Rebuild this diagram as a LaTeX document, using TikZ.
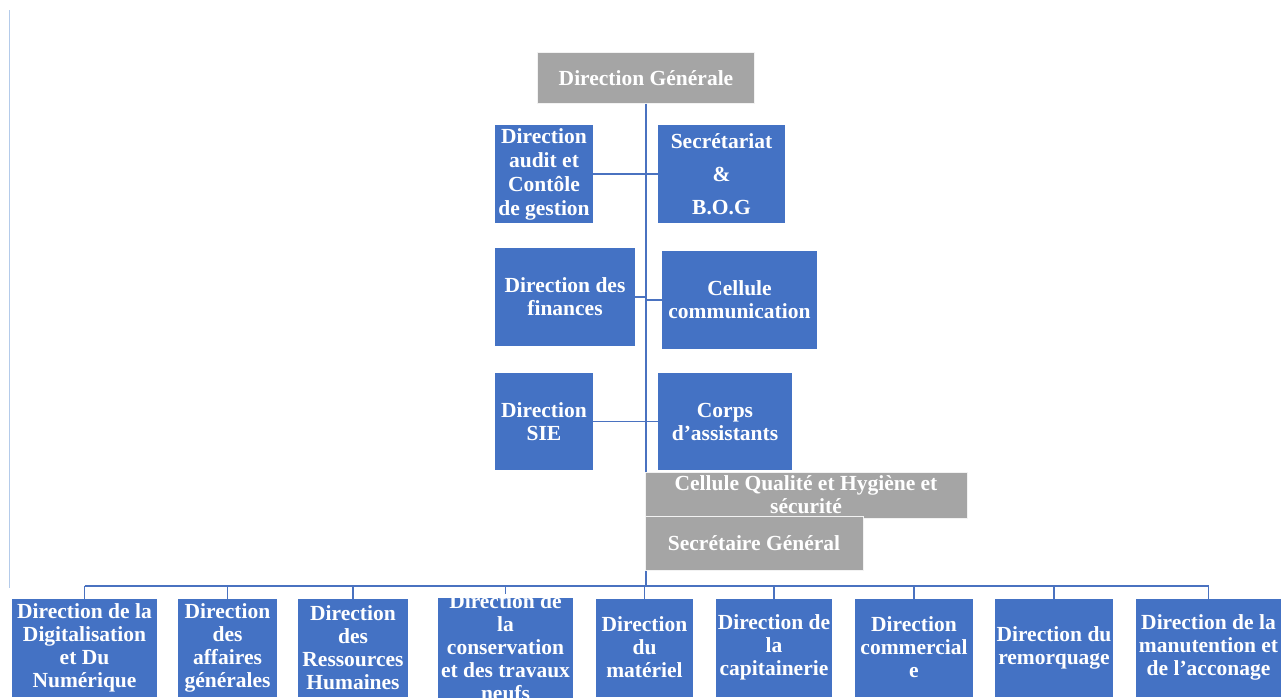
\documentclass[tikz,border=0pt]{standalone}
\usepackage{fontspec}
\setmainfont{Liberation Serif}
\definecolor{boxblue}{HTML}{4472C4}
\definecolor{boxgray}{HTML}{A5A5A5}
\definecolor{lineblue}{HTML}{4A72C0}
\definecolor{pageline}{HTML}{B4CBEA}
\begin{document}
\begin{tikzpicture}[x=1pt,y=-1pt,
  box/.style={fill=boxblue, draw=none, text=white, font=\bfseries\fontsize{21.5}{23}\selectfont,
    align=center, inner sep=0pt, outer sep=0pt},
  graybox/.style={box, fill=boxgray, draw=white!85!boxgray, line width=0.8pt},
  conn/.style={draw=lineblue, line width=1.3pt}]
\useasboundingbox (0,0) rectangle (1281,697);
\clip (0,0) rectangle (1281,697);
\fill[white] (0,0) rectangle (1281,697);
\draw[pageline, line width=1pt] (9.5,10) -- (9.5,588);

\coordinate (bus) at (646,586);

% top level
\node[graybox, minimum width=217, minimum height=51] (dg) at (646,78) {Direction Générale};

% main vertical line
\draw[conn] (dg.south) -- (bus);

% side boxes
\node[box, minimum width=98, minimum height=98] (audit) at (544,174)
  {Direction\\[1pt]audit et\\[1pt]Contôle\\[1pt]de gestion};
\node[box, minimum width=127, minimum height=98] (sec) at (721.5,174)
  {Secrétariat\\[10pt]\&\\[10pt]B.O.G};
\node[box, minimum width=140, minimum height=98] (fin) at (565,297)
  {Direction des\\finances};
\node[box, minimum width=155, minimum height=98] (comm) at (739.5,300)
  {Cellule\\communication};
\node[box, minimum width=98, minimum height=97] (sie) at (544,421.5)
  {Direction\\SIE};
\node[box, minimum width=134, minimum height=97] (corps) at (725,421.5)
  {Corps\\d’assistants};

\draw[conn] (audit.east) -- (sec.west);
\draw[conn] (fin.east) -- (fin.east -| bus);
\draw[conn] (comm.west) -- (comm.west -| bus);
\draw[conn] (sie.east) -- (corps.west);

% gray boxes
\node[graybox, minimum width=322, minimum height=46] (cq) at (806,495)
  {Cellule Qualité et Hygiène et\\sécurité};
\node[graybox, minimum width=218, minimum height=54] (sg) at (754,543)
  {Secrétaire Général};

% bottom boxes
\node[box, minimum width=145, minimum height=98] (b1) at (84.5,647.5)
  {Direction de la\\Digitalisation\\et Du\\Numérique};
\node[box, minimum width=99, minimum height=98] (b2) at (227.5,647.5)
  {Direction\\des\\affaires\\générales};
\node[box, minimum width=110, minimum height=98] (b3) at (353,647.5)
  {Direction\\des\\Ressources\\Humaines};
\begin{scope}
\clip (438,598.5) rectangle (573,697);
\node[box, minimum width=135, minimum height=98] (b4) at (505.5,647.5)
  {Direction de\\la\\conservation\\et des travaux\\neufs};
\end{scope}
\node[box, minimum width=97, minimum height=98] (b5) at (644.5,647.5)
  {Direction\\du\\matériel};
\node[box, minimum width=116, minimum height=98] (b6) at (774,647.5)
  {Direction de\\la\\capitainerie};
\node[box, minimum width=118, minimum height=98] (b7) at (914,647.5)
  {Direction\\commercial\\e};
\node[box, minimum width=118, minimum height=98] (b8) at (1054,647.5)
  {Direction du\\remorquage};
\node[box, minimum width=145, minimum height=98] (b9) at (1208.5,647.5)
  {Direction de la\\manutention et\\de l’acconage};

% bus
\draw[conn] (b1.north |- bus) -- (b9.north |- bus);
\foreach \b in {b1,b2,b3,b4,b5,b6,b7,b8,b9}{
  \draw[conn] (\b.north) -- (\b.north |- bus);
}
\end{tikzpicture}
\end{document}
